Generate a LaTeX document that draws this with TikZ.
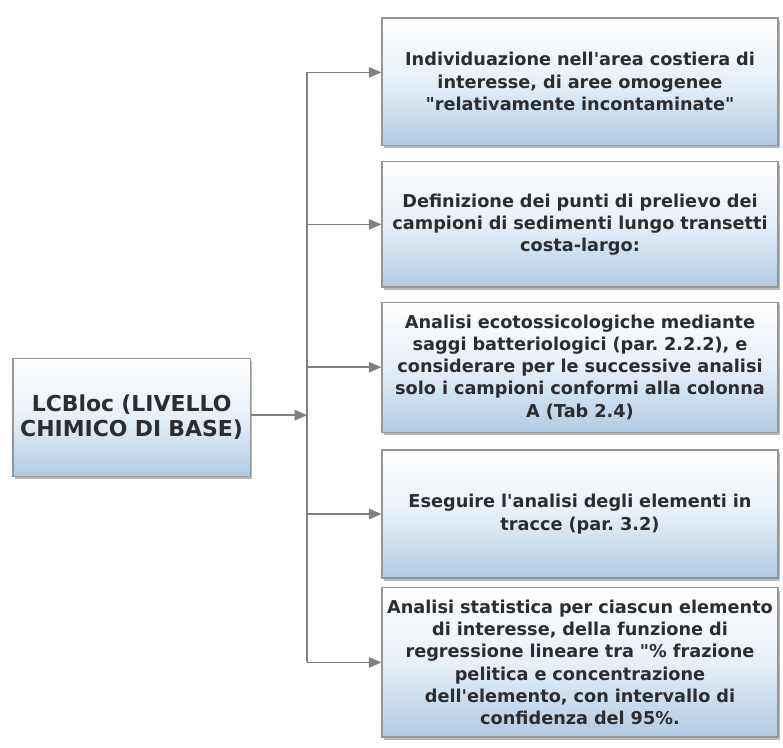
\documentclass[tikz,border=0pt]{standalone}
\usepackage{fontspec}
\setmainfont{DejaVu Sans}
\definecolor{boxblue}{RGB}{176,203,228}
\definecolor{boxline}{RGB}{150,150,150}
\definecolor{textgray}{RGB}{45,45,48}
\definecolor{linkgray}{RGB}{128,128,128}
\usepackage{tikz}
\usetikzlibrary{arrows.meta,shadows,calc}
\frenchspacing
\tikzset{
  rbox/.style={rectangle,draw=boxline,line width=0.8pt,
               top color=white,bottom color=boxblue,middle color=boxblue!30,
               drop shadow={shadow xshift=1.5pt,shadow yshift=-2pt,opacity=0.55},
               text width=9.8cm,inner xsep=0.05cm,align=center,
               minimum height=#1,text=textgray,
               font=\fontsize{12.6}{15.8}\selectfont\bfseries},
  rbox/.default=3.2cm,
  link/.style={-{Triangle[length=9pt,width=7.5pt]},line width=1.1pt,linkgray},
}

\begin{document}
\begin{tikzpicture}
    \useasboundingbox (0,0) rectangle (19.575,-18.675);

    \node[rbox=2.95cm,text width=5.83cm,
          font=\fontsize{15.6}{17.8}\selectfont\bfseries]
                 (A) at (3.29,-10.43) {LCBloc (LIVELLO\\CHIMICO DI BASE)};

    \node[rbox=3.18cm] (B) at (14.5,-2.04)
      {Individuazione nell\textquotesingle area costiera di\\interesse, di aree omogenee\\\textquotedbl relativamente incontaminate\textquotedbl};
    \node[rbox=3.13cm] (C) at (14.5,-5.61)
      {Definizione dei punti di prelievo dei\\campioni di sedimenti lungo transetti\\costa-largo:};
    \node[rbox=3.25cm] (D) at (14.5,-9.18)
      {Analisi ecotossicologiche mediante\\saggi batteriologici (par. 2.2.2), e\\considerare per le successive analisi\\solo i campioni conformi alla colonna\\A (Tab 2.4)};
    \node[rbox=3.2cm] (E) at (14.5,-12.85)
      {Eseguire l\textquotesingle analisi degli elementi in\\tracce (par. 3.2)};
    \node[rbox=3.73cm] (F) at (14.5,-16.56)
      {Analisi statistica per ciascun elemento\\di interesse, della funzione di\\regressione lineare tra \textquotedbl\% frazione\\pelitica e concentrazione\\dell\textquotesingle elemento, con intervallo di\\confidenza del 95\%.};

    % trunk
    \coordinate (J) at (7.68,-10.38);
    \coordinate (Bin) at ($(B.west)+(0,0.23)$);
    \draw[link] (A.east |- J) -- (J);
    \draw[line width=1.1pt,linkgray] (Bin -| J) -- (F.west -| J);

    \draw[link] (Bin -| J) -- (Bin);
    \foreach \n in {C,D,E,F}
      \draw[link] (\n.west -| J) -- (\n.west);

\end{tikzpicture}
\end{document}
